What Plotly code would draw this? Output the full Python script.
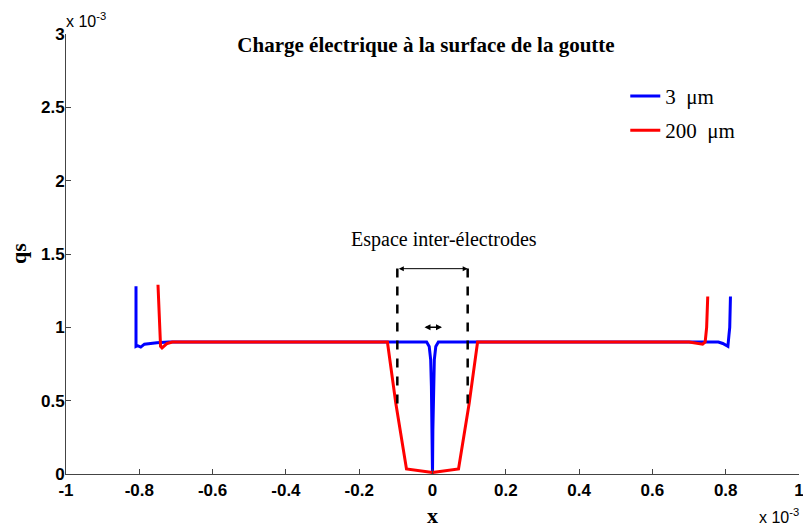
import plotly.graph_objects as go

# x values in units of 1e-3 (axis shows "x 10^-3"), qs values in units of 1e-3
blue_x = [-0.809, -0.809, -0.805, -0.796, -0.786, -0.772, -0.752, -0.72,
          -0.016, -0.009, -0.005, -0.003, -0.001, 0.0, 0.001, 0.003, 0.005, 0.009, 0.016,
          0.72, 0.78, 0.792, 0.80, 0.806, 0.809, 0.811, 0.813]
blue_y = [1.28, 0.87, 0.875, 0.865, 0.885, 0.89, 0.895, 0.9,
          0.9, 0.87, 0.78, 0.6, 0.3, 0.0, 0.3, 0.6, 0.78, 0.87, 0.9,
          0.9, 0.9, 0.89, 0.878, 0.87, 0.95, 1.0, 1.21]
red_x = [-0.749, -0.746, -0.742, -0.738, -0.732, -0.724, -0.71,
         -0.123, -0.100, -0.071, 0.0, 0.071, 0.100, 0.123,
         0.70, 0.72, 0.737, 0.744, 0.748, 0.751]
red_y = [1.29, 1.05, 0.87, 0.86, 0.875, 0.89, 0.9,
         0.9, 0.48, 0.035, 0.01, 0.035, 0.48, 0.9,
         0.9, 0.89, 0.885, 0.9, 1.0, 1.21]
series_names = ["3\u00a0\u00a0μm", "200\u00a0\u00a0μm"]
x_ticks = [-1, -0.8, -0.6, -0.4, -0.2, 0, 0.2, 0.4, 0.6, 0.8, 1]
x_tick_labels = ["-1", "-0.8", "-0.6", "-0.4", "-0.2", "0", "0.2", "0.4", "0.6", "0.8", "1"]
y_ticks = [0, 0.5, 1, 1.5, 2, 2.5, 3]
y_tick_labels = ["0", "0.5", "1", "1.5", "2", "2.5", "3"]
electrode_x = [-0.096, 0.096]
electrode_y = [0.48, 1.43]
wide_arrow_y = 1.40
small_arrow_x = [-0.026, 0.026]
small_arrow_y = 1.0

fig = go.Figure()
fig.add_trace(go.Scatter(x=blue_x, y=blue_y, mode="lines", name=series_names[0],
                         line=dict(color="#0000ff", width=3), legendgroup="a", cliponaxis=False))
fig.add_trace(go.Scatter(x=red_x, y=red_y, mode="lines", name=series_names[1],
                         line=dict(color="#ff0000", width=3), legendgroup="b", cliponaxis=False))

# dashed electrode lines
for ex in electrode_x:
    fig.add_shape(type="line", x0=ex, x1=ex, y0=electrode_y[0], y1=electrode_y[1],
                  xref="x", yref="y", line=dict(color="black", width=2.5, dash="dash"))

# double arrows
def double_arrow(x0, x1, y, w=1, size=0.8):
    fig.add_annotation(x=x1, y=y, ax=x0, ay=y, xref="x", yref="y", axref="x", ayref="y",
                       text="", showarrow=True, arrowhead=2, arrowsize=size, arrowwidth=w,
                       arrowside="end+start", arrowcolor="black")

double_arrow(electrode_x[0], electrode_x[1], wide_arrow_y, 1, 1)
double_arrow(small_arrow_x[0], small_arrow_x[1], small_arrow_y, 1.5, 0.8)

serif = "Liberation Serif"
sans = "Liberation Sans"

fig.add_annotation(x=0.031, y=1.6, xref="x", yref="y", text="Espace inter-électrodes",
                   showarrow=False, font=dict(family=serif, size=20, color="black"))
fig.add_annotation(x=-48 / 733, y=0.5, xref="paper", yref="paper", xanchor="center", yanchor="middle",
                   text="<b>qs</b>", showarrow=False,
                   textangle=-90, font=dict(family=serif, size=22, color="black"))
fig.add_annotation(x=0, y=0, xref="x", yref="paper", xanchor="center", yanchor="middle", yshift=-41,
                   text="<b>x</b>", showarrow=False,
                   font=dict(family=serif, size=22, color="black"))
fig.add_annotation(x=1, y=0, xref="paper", yref="paper", xanchor="right", yanchor="middle",
                   yshift=-42, xshift=2,
                   text="x 10<sup>-3</sup>", showarrow=False,
                   font=dict(family=sans, size=16, color="black"))
fig.add_annotation(x=0, y=1, xref="paper", yref="paper", xanchor="left", yanchor="bottom",
                   xshift=-2, yshift=2, text="x 10<sup>-3</sup>", showarrow=False,
                   font=dict(family=sans, size=16, color="black"))

fig.update_layout(
    width=803, height=528,
    margin=dict(l=66, r=4, t=34, b=54),
    paper_bgcolor="white", plot_bgcolor="white",
    title=dict(text="<b>Charge électrique à la surface de la goutte</b>", x=426 / 803, xanchor="center",
               y=1 - 45 / 528, yanchor="middle", font=dict(family=serif, size=21, color="black")),
    showlegend=True,
    legend=dict(x=0.763, y=0.905, xanchor="left", yanchor="top", bgcolor="rgba(0,0,0,0)",
                font=dict(family=serif, size=21, color="black"), tracegroupgap=4),
    xaxis=dict(range=[-1, 1], tickvals=x_ticks, ticktext=x_tick_labels, ticks="inside",
               ticklen=5, tickcolor="#444", showgrid=False, zeroline=False, showline=True,
               linecolor="#444", linewidth=1, automargin=False, ticklabelstandoff=1,
               ticklabeloverflow="allow",
               tickfont=dict(family=sans, size=17, color="black", weight="bold")),
    yaxis=dict(range=[0, 3], tickvals=y_ticks, ticktext=y_tick_labels, ticks="inside",
               ticklen=5, tickcolor="#444", showgrid=False, zeroline=False, showline=True,
               linecolor="#444", linewidth=1, automargin=False, ticklabelstandoff=-3,
               tickfont=dict(family=sans, size=17, color="black", weight="bold")),
)

fig.write_html("out.html", config={"displayModeBar": False},
               post_script="document.body.style.margin='0';")
